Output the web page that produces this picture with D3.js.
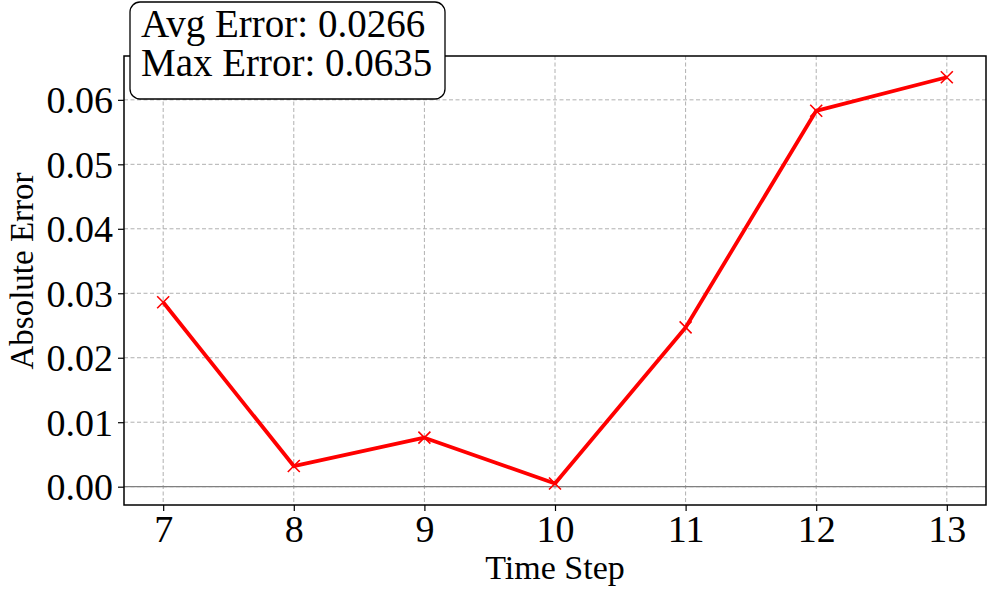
<!DOCTYPE html>
<html>
<head>
<meta charset="utf-8">
<script src="https://cdn.jsdelivr.net/npm/d3@7"></script>
<style>
  body { margin: 0; background: #fff; }
  text { font-family: "Liberation Serif", "Times New Roman", serif; }
</style>
</head>
<body>
<svg id="chart"></svg>
<script>
var timeSteps = [7, 8, 9, 10, 11, 12, 13];
var absErrors = [0.0286, 0.0032, 0.0076, 0.0005, 0.0247, 0.0583, 0.0635];
var yTicks = [0.00, 0.01, 0.02, 0.03, 0.04, 0.05, 0.06];
var boxLines = ["Avg Error: 0.0266", "Max Error: 0.0635"];

var svgWidth = 997, svgHeight = 596;
var margin = { top: 56, right: 11, bottom: 91, left: 124 };
var width = svgWidth - margin.left - margin.right;
var height = svgHeight - margin.top - margin.bottom;

var svg = d3.select("#chart")
    .attr("width", svgWidth)
    .attr("height", svgHeight);

var g = svg.append("g")
    .attr("transform", "translate(" + margin.left + "," + margin.top + ")");

var x = d3.scaleLinear().domain([6.7, 13.3]).range([0, width]);
var y = d3.scaleLinear().domain([-0.00284, 0.0668]).range([height, 0]);

// grid
g.append("g")
    .selectAll("line")
    .data(timeSteps)
    .enter().append("line")
    .attr("x1", function(d) { return x(d); })
    .attr("x2", function(d) { return x(d); })
    .attr("y1", 0).attr("y2", height)
    .attr("stroke", "#b0b0b0")
    .attr("stroke-width", 1)
    .attr("stroke-dasharray", "4,2.5");

g.append("g")
    .selectAll("line")
    .data(yTicks)
    .enter().append("line")
    .attr("x1", 0).attr("x2", width)
    .attr("y1", function(d) { return y(d); })
    .attr("y2", function(d) { return y(d); })
    .attr("stroke", "#b0b0b0")
    .attr("stroke-width", 1)
    .attr("stroke-dasharray", "4,2.5");

// zero line
g.append("line")
    .attr("x1", 0).attr("x2", width)
    .attr("y1", y(0)).attr("y2", y(0))
    .attr("stroke", "#808080")
    .attr("stroke-width", 1.3);

// axes
var xAxis = g.append("g")
    .attr("transform", "translate(0," + height + ")")
    .call(d3.axisBottom(x).tickValues(timeSteps).tickFormat(d3.format("d")).tickSize(6).tickPadding(6));
var yAxis = g.append("g")
    .call(d3.axisLeft(y).tickValues(yTicks).tickFormat(d3.format(".2f")).tickSize(6).tickPadding(5));

[xAxis, yAxis].forEach(function(a) {
    a.select(".domain").remove();
    a.selectAll(".tick line").attr("stroke", "#000").attr("stroke-width", 1.2);
    a.selectAll(".tick text").attr("fill", "#000").style("font-size", "38px")
        .style("font-family", "'Liberation Serif', serif");
});
xAxis.selectAll(".tick text").attr("dy", "0.66em");
yAxis.selectAll(".tick text").attr("dy", "0.34em");

// frame
g.append("rect")
    .attr("width", width).attr("height", height)
    .attr("fill", "none")
    .attr("stroke", "#000")
    .attr("stroke-width", 1.5);

// line + markers
var line = d3.line()
    .x(function(d, i) { return x(timeSteps[i]); })
    .y(function(d) { return y(d); });

g.append("path")
    .datum(absErrors)
    .attr("fill", "none")
    .attr("stroke", "#ff0000")
    .attr("stroke-width", 3.8)
    .attr("stroke-linejoin", "round")
    .attr("d", line);

g.append("path")
    .attr("fill", "none")
    .attr("stroke", "#ff0000")
    .attr("stroke-width", 1.6)
    .attr("d", absErrors.map(function(d, i) {
        var cx = x(timeSteps[i]), cy = y(d), s = 6;
        return "M" + (cx - s) + "," + (cy - s) + "L" + (cx + s) + "," + (cy + s) +
               "M" + (cx - s) + "," + (cy + s) + "L" + (cx + s) + "," + (cy - s);
    }).join(""));

// labels
svg.append("text")
    .attr("x", margin.left + width / 2)
    .attr("y", 579)
    .attr("text-anchor", "middle")
    .style("font-size", "34px")
    .text("Time Step");

svg.append("text")
    .attr("transform", "translate(33,271) rotate(-90)")
    .attr("text-anchor", "middle")
    .style("font-size", "33px")
    .text("Absolute Error");

// stats box
var box = svg.append("g");
box.append("rect")
    .attr("x", 130).attr("y", 2)
    .attr("width", 315).attr("height", 97)
    .attr("rx", 10).attr("ry", 10)
    .attr("fill", "#fff")
    .attr("stroke", "#000")
    .attr("stroke-width", 1.3);
box.selectAll("text.stat")
    .data(boxLines)
    .enter().append("text")
    .attr("class", "stat")
    .attr("x", 141)
    .attr("y", function(d, i) { return 37 + i * 39; })
    .style("font-size", "39px")
    .text(function(d) { return d; });
</script>
</body>
</html>
